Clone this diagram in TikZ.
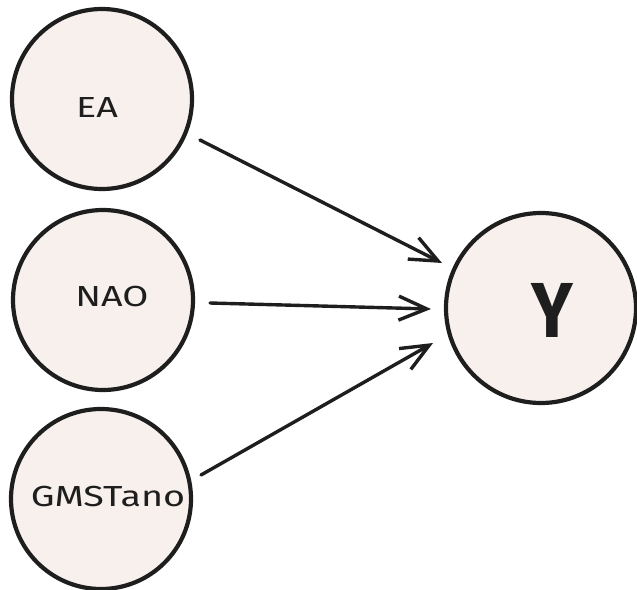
\documentclass[tikz,border=0pt]{standalone}
\usepackage{fontspec}
\usetikzlibrary{arrows.meta}
\newfontfamily\hand[FakeStretch=1.3]{Fira Sans}
\newfontfamily\handbig[FakeStretch=0.9]{Fira Sans}
\definecolor{circfill}{RGB}{248,240,236}
\definecolor{ink}{RGB}{30,30,30}
\tikzset{
  var/.style={circle, draw=ink, fill=circfill, line width=4.2pt, minimum size=#1, inner sep=0pt, outer sep=0pt},
  lbl/.style={font=\hand\fontsize{29}{32}\selectfont, text=ink, inner sep=0pt},
  conn/.style={draw=ink, line width=3.4pt, line cap=round, -{Straight Barb[length=28pt,width=24pt,line width=3.4pt]}}
}
\begin{document}
\begin{tikzpicture}[x=1pt,y=-1pt]
\useasboundingbox (0,0) rectangle (637,589);
\node[var=180pt] (ea) at (102,99) {};
\node[var=180pt] (nao) at (103,300) {};
\node[var=180pt] (gms) at (101,499) {};
\node[var=190pt] (y) at (541,308) {};
\node[lbl] (eat) at (97,108) {EA};
\node[lbl] (naot) at (112,297) {NAO};
\node[lbl] (gmst) at (108,497) {GMSTano};
\node[font=\handbig\bfseries\fontsize{78}{80}\selectfont, text=ink, inner sep=0pt] (yt) at (552,310) {Y};
\draw[conn] ([shift={(98,41)}]ea.center) -- ([shift={(-99,-45)}]y.center);
\draw[conn] ([shift={(107,3)}]nao.center) -- ([shift={(-110,1)}]y.center);
\draw[conn] ([shift={(100,-24)}]gms.center) -- ([shift={(-108,35)}]y.center);
\end{tikzpicture}
\end{document}
